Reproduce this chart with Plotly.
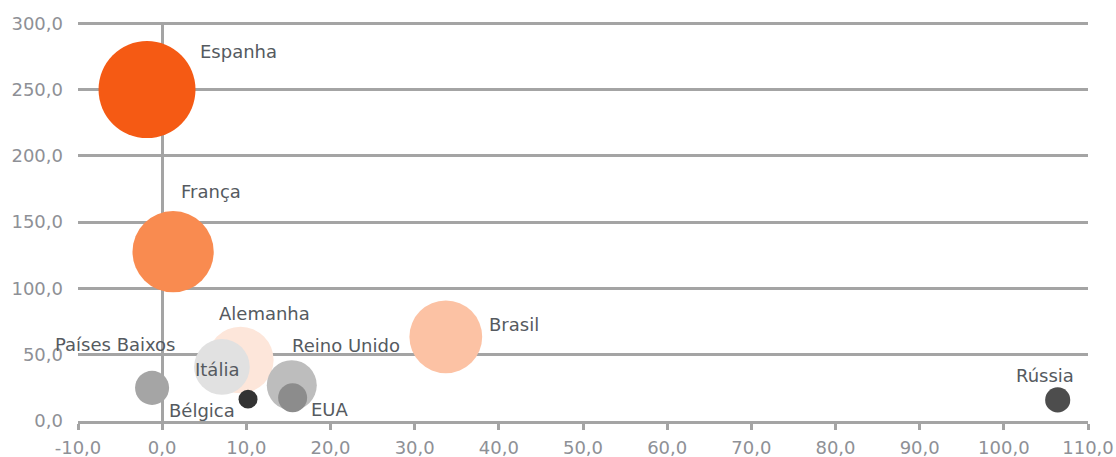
import plotly.graph_objects as go

countries = ["Espanha", "França", "Brasil", "Alemanha", "Itália", "Reino Unido", "EUA",
             "Países Baixos", "Bélgica", "Rússia"]
x_vals = [-1.8, 1.3, 33.7, 9.3, 7.1, 15.4, 15.5, -1.2, 10.2, 106.4]
y_vals = [250.0, 127.7, 63.5, 46.0, 40.8, 27.0, 17.6, 25.0, 16.5, 15.9]
bubble = [94.0, 66.0, 53.0, 44.0, 31.0, 25.0, 8.4, 11.6, 3.6, 6.3]
colors = ["#f55a14", "#f98b50", "#fcc2a4", "#fde6da", "#e1e1e1", "#bdbdbd", "#8c8c8c",
          "#a5a5a5", "#333333", "#4d4d4d"]
# label offsets in px relative to bubble centre
label_dx = [91, 38, 68, 24, -5, 54, 37, -37, -46, -13]
label_dy = [38, 60, 12, 47, -3, 40, -12, 43, -11, 24]

x_ticks = list(range(-10, 111, 10))
x_ticktext = ["-10,0", "0,0", "10,0", "20,0", "30,0", "40,0", "50,0", "60,0",
              "70,0", "80,0", "90,0", "100,0", "110,0"]
y_ticks = list(range(0, 301, 50))

fig = go.Figure()
fig.add_trace(go.Scatter(
    x=x_vals, y=y_vals, mode="markers",
    marker=dict(size=bubble, sizemode="area", sizeref=0.02, color=colors, opacity=1,
                line=dict(width=0)),
    cliponaxis=False, hoverinfo="text", text=countries,
))

for c, x, y, dx, dy in zip(countries, x_vals, y_vals, label_dx, label_dy):
    fig.add_annotation(x=x, y=y, text=c, showarrow=False, xshift=dx, yshift=dy,
                       xanchor="center", yanchor="middle",
                       font=dict(family="DejaVu Sans", size=18, color="#555a60"))

grid_color = "#a4a4a4"
fig.update_layout(
    width=1116, height=457,
    margin=dict(l=78, r=28, t=22, b=36, autoexpand=False),
    paper_bgcolor="white", plot_bgcolor="white",
    separators=", ",
    showlegend=False,
    font=dict(family="DejaVu Sans", size=18, color="#8e9096"),
    xaxis=dict(range=[-10, 110], tickvals=x_ticks, ticktext=x_ticktext, automargin=False,
               showgrid=False, zeroline=True, zerolinecolor=grid_color, zerolinewidth=3,
               showline=True, linecolor=grid_color, linewidth=3,
               ticks="outside", ticklen=6, tickwidth=3, tickcolor=grid_color,
               ticklabelstandoff=2,
               tickfont=dict(family="DejaVu Sans", size=18, color="#8e9096")),
    yaxis=dict(range=[0, 301], tickvals=y_ticks, tickformat=".1f", automargin=False,
               showgrid=True, gridcolor=grid_color, gridwidth=3,
               zeroline=False, showline=False, ticks="",
               ticklabelstandoff=14,
               tickfont=dict(family="DejaVu Sans", size=18, color="#8e9096")),
)

fig.write_html("out.html")
